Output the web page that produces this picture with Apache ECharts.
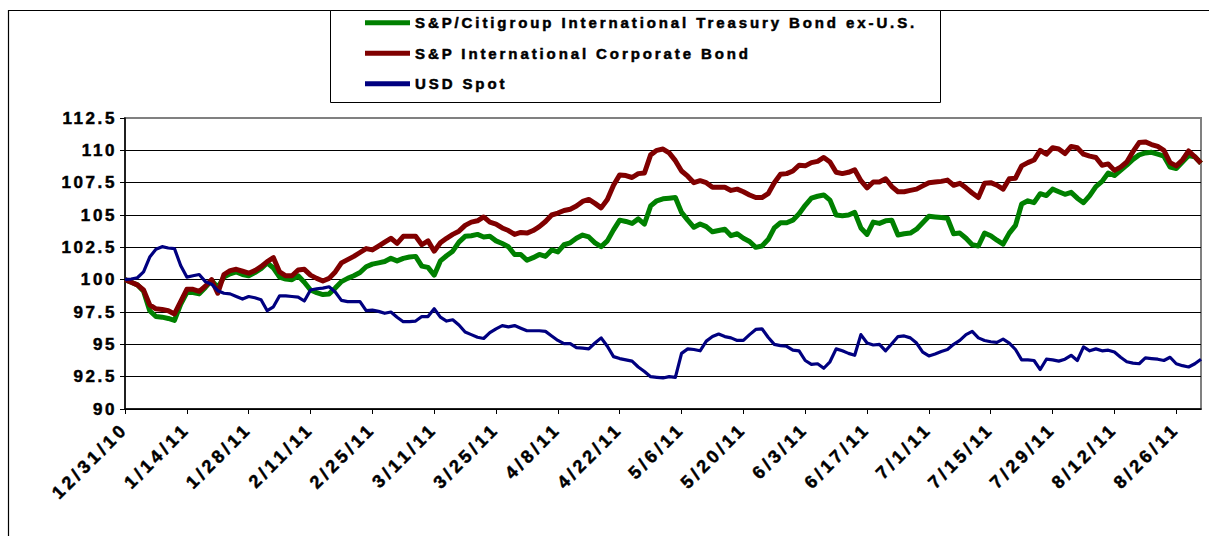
<!DOCTYPE html>
<html><head><meta charset="utf-8">
<script src="https://cdn.jsdelivr.net/npm/echarts@6/dist/echarts.min.js"></script>
<style>
html,body{margin:0;padding:0;background:#fff}
#c{width:1209px;height:536px}
#c text[style*="15px"]{letter-spacing:2.9px}
#c text[style*="17px"]{letter-spacing:2.6px}
#c text[style*="18px"]{letter-spacing:3.6px}
</style>
</head><body><div id="c"></div>
<script>
// Business-day categories from 12/31/10 through 9/1/11
const categories = [];
(function () {
  let t = Date.UTC(2010, 11, 31);
  const end = Date.UTC(2011, 8, 1);
  while (t <= end) {
    const d = new Date(t), w = d.getUTCDay();
    if (w !== 0 && w !== 6) categories.push((d.getUTCMonth() + 1) + '/' + d.getUTCDate() + '/' + String(d.getUTCFullYear()).slice(2));
    t += 86400000;
  }
})();

const seriesNames = ['S&P/Citigroup International Treasury Bond ex-U.S.', 'S&P International Corporate Bond', 'USD Spot'];

const treasury = [
  100, 99.8, 99.6, 99.1, 97.6, 97.15, 97.1, 97.0, 96.85, 98.1,
  99.0, 99.0, 98.9, 99.4, 99.95, 99.4, 100.2, 100.45, 100.6, 100.4,
  100.3, 100.55, 100.85, 101.3, 100.9, 100.2, 100.05, 100.0, 100.3, 99.8,
  99.2, 99.0, 98.85, 98.9, 99.35, 99.85, 100.1, 100.3, 100.55, 101.0,
  101.2, 101.3, 101.4, 101.65, 101.45, 101.65, 101.75, 101.8, 101.05, 100.95,
  100.35, 101.45, 101.85, 102.2, 102.9, 103.35, 103.4, 103.5, 103.3, 103.35,
  103.0, 102.8, 102.55, 101.95, 101.95, 101.5, 101.7, 101.95, 101.8, 102.3,
  102.15, 102.7, 102.85, 103.2, 103.45, 103.3, 102.85, 102.55, 103.0, 103.85,
  104.6, 104.5, 104.35, 104.7, 104.3, 105.7, 106.1, 106.25, 106.3, 106.35,
  105.2, 104.6, 104.05, 104.3, 104.1, 103.7, 103.8, 103.9, 103.4, 103.55,
  103.2, 102.95, 102.5, 102.6, 103.1, 104.0, 104.4, 104.4, 104.6, 105.1,
  105.75, 106.3, 106.45, 106.55, 106.15, 105.0, 104.95, 105.0, 105.2, 104.0,
  103.5, 104.45, 104.35, 104.55, 104.6, 103.45, 103.55, 103.6, 103.9, 104.4,
  104.9, 104.85, 104.8, 104.75, 103.55, 103.6, 103.2, 102.7, 102.6, 103.6,
  103.4, 103.05, 102.75, 103.6, 104.2, 105.85, 106.1, 105.95, 106.65, 106.5,
  107.0, 106.8, 106.6, 106.75, 106.3, 105.95, 106.5, 107.2, 107.6, 108.25,
  108.05, 108.45, 108.85, 109.3, 109.65, 109.8, 109.85, 109.7, 109.55, 108.7,
  108.6, 109.1, 109.6, 109.5, 109.0
];

const corporate = [
  100, 99.8, 99.6, 99.2, 98.05, 97.75, 97.7, 97.6, 97.35, 98.3,
  99.25, 99.25, 99.1, 99.5, 100.0, 98.95, 100.4, 100.7, 100.8, 100.65,
  100.5, 100.7, 101.0, 101.4, 101.7, 100.6, 100.3, 100.3, 100.75, 100.8,
  100.35, 100.1, 99.9, 100.1, 100.6, 101.3, 101.55, 101.8, 102.1, 102.4,
  102.3, 102.6, 102.9, 103.2, 102.8, 103.35, 103.35, 103.35, 102.7, 103.0,
  102.2, 102.85, 103.2, 103.5, 103.75, 104.2, 104.45, 104.55, 104.85, 104.45,
  104.3, 104.0, 103.8, 103.5, 103.65, 103.6, 103.8, 104.1, 104.5, 105.0,
  105.15, 105.35, 105.45, 105.7, 106.05, 106.2, 105.9, 105.55, 106.2, 107.3,
  108.1, 108.05, 107.9, 108.2, 108.25, 109.65, 110.0, 110.1, 109.8, 109.2,
  108.4, 108.0, 107.5, 107.65, 107.5, 107.15, 107.15, 107.15, 106.9, 107.0,
  106.8, 106.55, 106.35, 106.35, 106.65, 107.5, 108.15, 108.2, 108.4, 108.85,
  108.8, 109.05, 109.15, 109.45, 109.1, 108.3, 108.2, 108.3, 108.5, 107.65,
  107.1, 107.55, 107.55, 107.8, 107.2, 106.8, 106.8, 106.9, 107.0, 107.25,
  107.5, 107.55, 107.6, 107.7, 107.3, 107.45, 107.1, 106.7, 106.35, 107.45,
  107.5, 107.3, 107.0, 107.8, 107.85, 108.8, 109.05, 109.25, 110.0, 109.7,
  110.2, 110.1, 109.75, 110.3, 110.2, 109.7, 109.55, 109.45, 108.85, 108.95,
  108.45, 108.7, 109.1, 109.9, 110.6, 110.65, 110.45, 110.3, 110.0, 109.05,
  108.8, 109.25, 109.95, 109.5, 109.0
];

const usdSpot = [
  100, 100.05, 100.15, 100.6, 101.75, 102.35, 102.55, 102.45, 102.4, 101.1,
  100.2, 100.3, 100.4, 99.85, 99.65, 99.15, 98.95, 98.9, 98.7, 98.5,
  98.7, 98.6, 98.45, 97.6, 97.9, 98.75, 98.75, 98.7, 98.65, 98.35,
  99.2, 99.3, 99.35, 99.45, 99.05, 98.4, 98.3, 98.3, 98.3, 97.6,
  97.65, 97.55, 97.4, 97.5, 97.1, 96.75, 96.75, 96.8, 97.15, 97.15,
  97.75, 97.1, 96.8, 96.9, 96.5, 95.95, 95.75, 95.55, 95.45, 95.9,
  96.2, 96.45, 96.35, 96.45, 96.25, 96.05, 96.05, 96.05, 96.0, 95.65,
  95.3, 95.05, 95.05, 94.75, 94.7, 94.65, 95.1, 95.5, 94.85, 94.05,
  93.9, 93.8, 93.7, 93.25, 92.9, 92.5, 92.45, 92.4, 92.5, 92.45,
  94.3, 94.65, 94.6, 94.5, 95.25, 95.6, 95.8, 95.6, 95.5, 95.3,
  95.3, 95.75, 96.15, 96.2, 95.55, 95.0, 94.9, 94.85, 94.55, 94.5,
  93.75, 93.45, 93.5, 93.15, 93.65, 94.65, 94.5, 94.3, 94.15, 95.75,
  95.1, 94.95, 95.0, 94.5, 95.05, 95.6, 95.65, 95.5, 95.1, 94.4,
  94.1, 94.25, 94.45, 94.6, 95.0, 95.3, 95.75, 96.0, 95.5, 95.3,
  95.2, 95.15, 95.4, 95.1, 94.6, 93.8, 93.8, 93.75, 93.05, 93.85,
  93.8, 93.7, 93.85, 94.15, 93.75, 94.8, 94.5, 94.65, 94.5, 94.55,
  94.4, 94.0, 93.65, 93.55, 93.5, 93.95, 93.9, 93.85, 93.75, 94.0,
  93.5, 93.35, 93.25, 93.5, 93.85
];

const yMin = 90, yMax = 112.5, yStep = 2.5;
const colors = ['#008000', '#800000', '#000080'];
const widths = [5, 5, 3.2];

const FONT = 'Liberation Sans, Arial, sans-serif';
const chart = echarts.init(document.getElementById('c'), null, { renderer: 'svg' });

const gridLineColors = ['#000', '#000', '#000', '#000', '#000', '#000', '#000', '#000', '#000', '#808080'];
const txt = { fontFamily: FONT, fontWeight: 'bold', color: '#000', textBorderColor: '#000', textBorderWidth: 0.5 };

chart.setOption({
  animation: false,
  backgroundColor: '#fff',
  graphic: [
    { type: 'rect', z: 0, shape: { x: 8.5, y: 10.5, width: 1300, height: 600 }, style: { fill: 'none', stroke: '#000', lineWidth: 1.2 } },
    { type: 'rect', z: 1, shape: { x: 330.5, y: 10.5, width: 610, height: 92 }, style: { fill: '#fff', stroke: '#000', lineWidth: 1 } }
  ],
  legend: {
    left: 360, top: 10, orient: 'vertical', itemGap: 15,
    itemWidth: 45, itemHeight: 5, icon: 'rect',
    textStyle: Object.assign({ fontSize: 15 }, txt),
    data: seriesNames
  },
  grid: { left: 125, right: 8, top: 118, bottom: 127, show: true, borderColor: '#808080', borderWidth: 2, backgroundColor: 'transparent' },
  xAxis: {
    type: 'category', data: categories, boundaryGap: false,
    axisLine: { lineStyle: { color: '#000', width: 1.5 } },
    axisTick: { interval: 9, length: 5, lineStyle: { color: '#000' } },
    axisLabel: Object.assign({ interval: 9, rotate: 45, margin: 17, fontSize: 18 }, txt),
    splitLine: { show: false }
  },
  yAxis: {
    type: 'value', min: yMin, max: yMax, interval: yStep,
    axisLine: { show: true, lineStyle: { color: '#000', width: 1.5 } },
    axisTick: { show: true, length: 5, lineStyle: { color: '#000' } },
    axisLabel: Object.assign({ margin: 8, fontSize: 17 }, txt),
    splitLine: { show: true, lineStyle: { color: gridLineColors, width: 1 } }
  },
  series: [treasury, corporate, usdSpot].map((d, k) => ({
    name: seriesNames[k], type: 'line', data: d, symbol: 'none', showSymbol: false,
    lineStyle: { color: colors[k], width: widths[k], join: 'round' },
    itemStyle: { color: colors[k] },
    z: 2 + k
  }))
});
</script></body></html>
